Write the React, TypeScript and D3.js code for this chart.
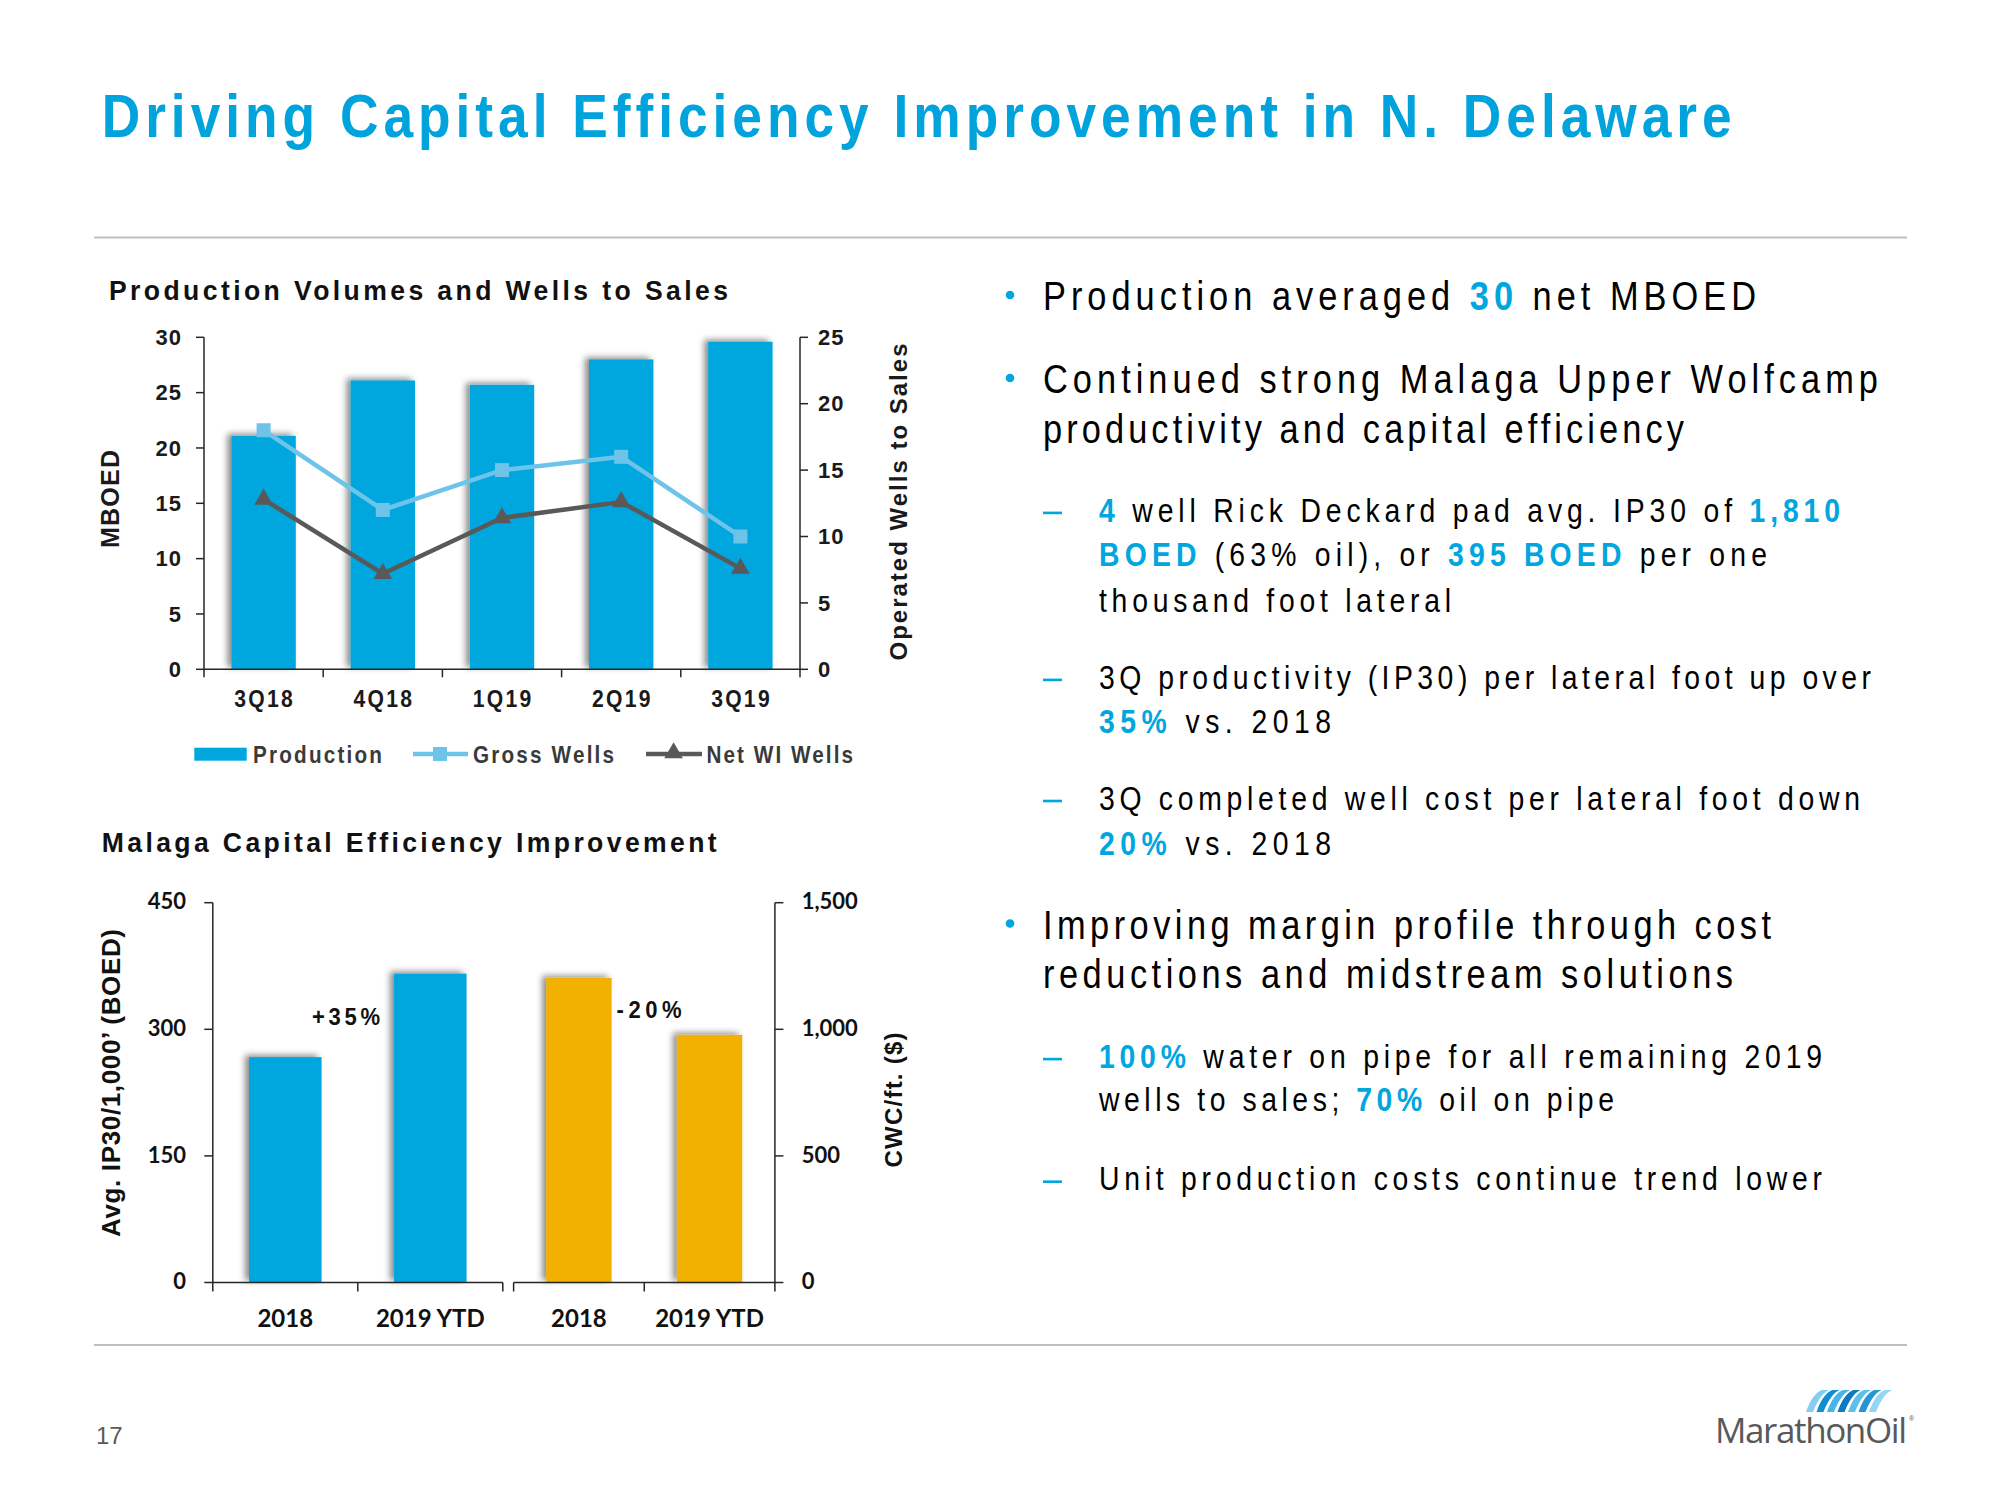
import React from 'react';
import * as d3 from 'd3';

// ---------- Data ----------
const quarters = ['3Q18', '4Q18', '1Q19', '2Q19', '3Q19'];
const production = [21.1, 26.1, 25.7, 28.0, 29.6];
const grossWells = [18, 12, 15, 16, 10];
const netWIWells = [12.8, 7.2, 11.4, 12.6, 7.6];
const prodTicks = [0, 5, 10, 15, 20, 25, 30];
const wellTicks = [0, 5, 10, 15, 20, 25];

const ipYears = ['2018', '2019 YTD'];
const ip30Values = [267, 366];
const cwcYears = ['2018', '2019 YTD'];
const cwcValues = [1203, 978];
const ipTicks = [0, 150, 300, 450];
const cwcTicks = [0, 500, 1000, 1500];

const ipChange = '+35%';
const cwcChange = '-20%';

// ---------- Colors ----------
const BLUE = '#00A6DE';
const LIGHT = '#6EC3E8';
const DARK = '#595959';
const GOLD = '#F2B000';
const TITLE = '#00A3DB';
const AXIS = '#262626';

const ARIAL = '"Liberation Sans", Arial, sans-serif';
const CALIBRI = 'Lato, "Open Sans", sans-serif';

type STProps = {
  x: number; y: number; w: number; size: number; weight?: any; fill?: string;
  sx?: number; rotate?: number; anchor?: 'start' | 'middle' | 'end'; family?: string;
  children: any;
};
function ST({ x, y, w, size, weight = 'normal', fill = '#000', sx = 1, rotate = 0, anchor = 'start', family = ARIAL, children }: STProps) {
  const L = w / sx;
  const lx = anchor === 'start' ? 0 : anchor === 'middle' ? -L / 2 : -L;
  return (
    <text
      transform={`translate(${x},${y}) rotate(${rotate}) scale(${sx},1)`}
      x={lx}
      y={0}
      textLength={L}
      lengthAdjust="spacing"
      fontFamily={family}
      fontSize={size}
      fontWeight={weight}
      fill={fill}
      style={{ whiteSpace: 'pre' }}
    >
      {children}
    </text>
  );
}

type Seg = [string, boolean];
type Line = { x: number; y: number; w: number; size: number; segs: Seg[]; marker?: 'bullet' | 'dash' };

const textLines: Line[] = [
  { x: 1043, y: 310, w: 713, size: 40, marker: 'bullet', segs: [['Production averaged ', false], ['30', true], [' net MBOED', false]] },
  { x: 1043, y: 393, w: 835, size: 40, marker: 'bullet', segs: [['Continued strong Malaga Upper Wolfcamp', false]] },
  { x: 1043, y: 443, w: 641, size: 40, segs: [['productivity and capital efficiency', false]] },
  { x: 1099, y: 521.6, w: 741, size: 33, marker: 'dash', segs: [['4', true], [' well Rick Deckard pad avg. IP30 of ', false], ['1,810', true]] },
  { x: 1099, y: 566, w: 668, size: 33, segs: [['BOED', true], [' (63% oil), or ', false], ['395 BOED', true], [' per one', false]] },
  { x: 1099, y: 611.5, w: 352, size: 33, segs: [['thousand foot lateral', false]] },
  { x: 1099, y: 688.6, w: 772, size: 33, marker: 'dash', segs: [['3Q productivity (IP30) per lateral foot up over', false]] },
  { x: 1099, y: 733, w: 232, size: 33, segs: [['35%', true], [' vs. 2018', false]] },
  { x: 1099, y: 809.7, w: 761, size: 33, marker: 'dash', segs: [['3Q completed well cost per lateral foot down', false]] },
  { x: 1099, y: 854.5, w: 232, size: 33, segs: [['20%', true], [' vs. 2018', false]] },
  { x: 1043, y: 938.5, w: 728, size: 40, marker: 'bullet', segs: [['Improving margin profile through cost', false]] },
  { x: 1043, y: 987.6, w: 690, size: 40, segs: [['reductions and midstream solutions', false]] },
  { x: 1099, y: 1067.8, w: 723, size: 33, marker: 'dash', segs: [['100%', true], [' water on pipe for all remaining 2019', false]] },
  { x: 1099, y: 1111.3, w: 515, size: 33, segs: [['wells to sales; ', false], ['70%', true], [' oil on pipe', false]] },
  { x: 1099, y: 1190.4, w: 723, size: 33, marker: 'dash', segs: [['Unit production costs continue trend lower', false]] },
];

function TopChart() {
  const x = d3.scaleBand<string>().domain(quarters).range([204, 800]).paddingInner(0.46).paddingOuter(0.23);
  const yL = d3.scaleLinear().domain([0, 30]).range([669.3, 337.3]);
  const yR = d3.scaleLinear().domain([0, 25]).range([669.3, 337.3]);
  const cx = (i: number) => (x(quarters[i]) as number) + x.bandwidth() / 2;
  const line = d3.line<number>().x((_, i) => cx(i)).y((d) => yR(d));
  const step = x.step();
  const [x0, x1] = x.range();
  const boundaries = d3.range(quarters.length + 1).map((i) => x0 + i * step);
  const tri = d3.symbol().type(d3.symbolTriangle).size(150)();
  const y0 = yL(0);

  return (
    <g>
      <ST x={109} y={300} w={619} size={28} weight="bold" fill="#111" sx={0.95}>Production Volumes and Wells to Sales</ST>
      {production.map((v, i) => (
        <rect key={i} x={x(quarters[i])} y={yL(v)} width={x.bandwidth()} height={y0 - yL(v)} fill={BLUE} filter="url(#barShadow)" />
      ))}
      {/* axes */}
      <line x1={x0} x2={x0} y1={yL(30)} y2={y0} stroke={AXIS} strokeWidth={1.5} />
      <line x1={x1} x2={x1} y1={yR(25)} y2={y0} stroke={AXIS} strokeWidth={1.5} />
      <line x1={x0} x2={x1} y1={y0} y2={y0} stroke={AXIS} strokeWidth={1.5} />
      {prodTicks.map((t) => (
        <g key={'l' + t}>
          <line x1={x0 - 8} x2={x0} y1={yL(t)} y2={yL(t)} stroke={AXIS} strokeWidth={1.5} />
          <text x={182} y={yL(t)} dy="0.35em" textAnchor="end" fontFamily={ARIAL} fontWeight="bold" fontSize={22} fill="#1a1a1a" letterSpacing={1}>{t}</text>
        </g>
      ))}
      {wellTicks.map((t) => (
        <g key={'r' + t}>
          <line x1={x1} x2={x1 + 8} y1={yR(t)} y2={yR(t)} stroke={AXIS} strokeWidth={1.5} />
          <text x={818} y={yR(t)} dy="0.35em" textAnchor="start" fontFamily={ARIAL} fontWeight="bold" fontSize={22} fill="#1a1a1a" letterSpacing={1}>{t}</text>
        </g>
      ))}
      {boundaries.map((b, i) => (
        <line key={'b' + i} x1={b} x2={b} y1={y0} y2={y0 + 8} stroke={AXIS} strokeWidth={1.5} />
      ))}
      {quarters.map((q, i) => (
        <ST key={q} x={cx(i)} y={706.7} w={58.5} size={23} weight="bold" fill="#1a1a1a" sx={0.92} anchor="middle">{q}</ST>
      ))}
      {/* lines */}
      <path d={line(grossWells) || ''} fill="none" stroke={LIGHT} strokeWidth={4.5} />
      {grossWells.map((v, i) => (
        <rect key={'g' + i} x={cx(i) - 7} y={yR(v) - 7} width={14} height={14} fill={LIGHT} />
      ))}
      <path d={line(netWIWells) || ''} fill="none" stroke={DARK} strokeWidth={4.5} />
      {netWIWells.map((v, i) => (
        <path key={'n' + i} d={tri || ''} transform={`translate(${cx(i)},${yR(v)})`} fill={DARK} />
      ))}
      {/* axis titles */}
      <ST x={119} y={499} w={98} size={25} weight="bold" fill="#1a1a1a" rotate={-90} anchor="middle">MBOED</ST>
      <ST x={907} y={502} w={317} size={24} weight="bold" fill="#1a1a1a" rotate={-90} anchor="middle">Operated Wells to Sales</ST>
      {/* legend */}
      <rect x={194.3} y={747.7} width={52.4} height={13} fill={BLUE} />
      <ST x={253} y={762.7} w={129} size={23} weight="bold" fill="#3a3a3a" sx={0.9}>Production</ST>
      <line x1={413} x2={468} y1={754} y2={754} stroke={LIGHT} strokeWidth={4.5} />
      <rect x={433} y={747} width={14} height={14} fill={LIGHT} />
      <ST x={473} y={762.7} w={141} size={23} weight="bold" fill="#3a3a3a" sx={0.9}>Gross Wells</ST>
      <line x1={646} x2={702} y1={754} y2={754} stroke={DARK} strokeWidth={4.5} />
      <path d={tri || ''} transform="translate(673.6,753)" fill={DARK} />
      <ST x={706.5} y={762.7} w={146.5} size={23} weight="bold" fill="#3a3a3a" sx={0.9}>Net WI Wells</ST>
    </g>
  );
}

function BottomChart() {
  const xL = d3.scaleBand<string>().domain(ipYears).range([212.8, 502.8]).paddingInner(0.5).paddingOuter(0.25);
  const xR = d3.scaleBand<string>().domain(cwcYears).range([513.6, 774.9]).paddingInner(0.5).paddingOuter(0.25);
  const yIP = d3.scaleLinear().domain([0, 450]).range([1282.5, 902.7]);
  const yC = d3.scaleLinear().domain([0, 1500]).range([1282.5, 902.7]);
  const y0 = yIP(0);
  const [l0, l1] = xL.range();
  const [r0, r1] = xR.range();
  const lb = d3.range(ipYears.length + 1).map((i) => l0 + i * xL.step());
  const rb = d3.range(cwcYears.length + 1).map((i) => r0 + i * xR.step());
  const fmt = d3.format(',');

  return (
    <g>
      <ST x={101.7} y={851.7} w={615} size={28} weight="bold" fill="#111" sx={0.95}>Malaga Capital Efficiency Improvement</ST>
      {ip30Values.map((v, i) => (
        <rect key={'ip' + i} x={xL(ipYears[i])} y={yIP(v)} width={xL.bandwidth()} height={y0 - yIP(v)} fill={BLUE} filter="url(#barShadow)" />
      ))}
      {cwcValues.map((v, i) => (
        <rect key={'c' + i} x={xR(cwcYears[i])} y={yC(v)} width={xR.bandwidth()} height={y0 - yC(v)} fill={GOLD} filter="url(#barShadow)" />
      ))}
      <line x1={l0} x2={l0} y1={yIP(450)} y2={y0} stroke={AXIS} strokeWidth={1.5} />
      <line x1={r1} x2={r1} y1={yC(1500)} y2={y0} stroke={AXIS} strokeWidth={1.5} />
      <line x1={l0} x2={l1} y1={y0} y2={y0} stroke={AXIS} strokeWidth={1.5} />
      <line x1={r0} x2={r1} y1={y0} y2={y0} stroke={AXIS} strokeWidth={1.5} />
      {ipTicks.map((t) => (
        <g key={'il' + t}>
          <line x1={l0 - 8.5} x2={l0} y1={yIP(t)} y2={yIP(t)} stroke={AXIS} strokeWidth={1.5} />
          <text x={186} y={yIP(t)} dy="0.3em" textAnchor="end" fontFamily={CALIBRI} fontWeight="bold" fontSize={22} fill="#111">{t}</text>
        </g>
      ))}
      {cwcTicks.map((t) => (
        <g key={'cr' + t}>
          <line x1={r1} x2={r1 + 8.5} y1={yC(t)} y2={yC(t)} stroke={AXIS} strokeWidth={1.5} />
          <text x={801.7} y={yC(t)} dy="0.3em" textAnchor="start" fontFamily={CALIBRI} fontWeight="bold" fontSize={22} fill="#111">{fmt(t)}</text>
        </g>
      ))}
      {[...lb, ...rb].map((b, i) => (
        <line key={'xb' + i} x1={b} x2={b} y1={y0} y2={y0 + 9} stroke={AXIS} strokeWidth={1.5} />
      ))}
      {ipYears.map((c) => (
        <text key={'lc' + c} x={(xL(c) as number) + xL.bandwidth() / 2} y={1326.7} textAnchor="middle" fontFamily={CALIBRI} fontWeight="bold" fontSize={24} fill="#111">{c}</text>
      ))}
      {cwcYears.map((c) => (
        <text key={'rc' + c} x={(xR(c) as number) + xR.bandwidth() / 2} y={1326.7} textAnchor="middle" fontFamily={CALIBRI} fontWeight="bold" fontSize={24} fill="#111">{c}</text>
      ))}
      <ST x={(xL(ipYears[1]) as number) - 14} y={yIP(ip30Values[0]) - 32} w={68} size={24} weight="bold" fill="#111" anchor="end" sx={0.92}>{ipChange}</ST>
      <ST x={(xR(cwcYears[0]) as number) + xR.bandwidth() + 5} y={yC(cwcValues[1]) - 16.6} w={65} size={24} weight="bold" fill="#111" sx={0.92}>{cwcChange}</ST>
      <ST x={120} y={1083} w={308} size={26} weight="bold" fill="#111" rotate={-90} anchor="middle">Avg. IP30/1,000’ (BOED)</ST>
      <ST x={902} y={1100} w={135} size={24} weight="bold" fill="#111" rotate={-90} anchor="middle">CWC/ft. ($)</ST>
    </g>
  );
}

const TSX = 0.86;

function TextBlock() {
  return (
    <g>
      {textLines.map((ln, i) => (
        <g key={i}>
          {ln.marker === 'bullet' && (
            <circle cx={1010} cy={ln.y - 15} r={4.3} fill={BLUE} />
          )}
          {ln.marker === 'dash' && (
            <rect x={1043} y={ln.y - 10} width={19} height={2.6} fill={BLUE} />
          )}
          <text
            transform={`translate(${ln.x},${ln.y}) scale(${TSX},1)`}
            x={0}
            y={0}
            textLength={ln.w / TSX}
            lengthAdjust="spacing"
            fontFamily={ARIAL}
            fontSize={ln.size}
            fill="#000"
            style={{ whiteSpace: 'pre' }}
          >
            {ln.segs.map(([t, hi], k) => (
              <tspan key={k} fill={hi ? BLUE : '#000'} fontWeight={hi ? 'bold' : 'normal'}>{t}</tspan>
            ))}
          </text>
        </g>
      ))}
    </g>
  );
}

function Logo() {
  const stripes = [0, 1, 2, 3, 4, 5, 6];
  const cols = ['#7FCBEE', '#0089CF', '#3FB0E6', '#0072BC', '#56BCEA', '#1B8FD2', '#8ED3F2'];
  return (
    <g>
      {stripes.map((s) => {
        const xs = 1806 + s * 10.5;
        return (
          <path
            key={s}
            d={`M${xs},1412 C${xs + 4},1400 ${xs + 10},1392 ${xs + 16},1390 L${xs + 23},1390 C${xs + 16},1393 ${xs + 11},1402 ${xs + 7},1412 Z`}
            fill={cols[s]}
            opacity={0.95}
          />
        );
      })}
      <ST x={1715} y={1443} w={192} size={35} weight={500} fill="#58595B" family={'"Open Sans", Lato, sans-serif'}>MarathonOil</ST>
      <text x={1909} y={1421} fontSize={7} fill="#58595B" fontFamily={ARIAL}>®</text>
    </g>
  );
}

export default function App() {
  return (
    <svg width={2000} height={1500} viewBox="0 0 2000 1500" style={{ position: 'absolute', left: 0, top: 0, background: '#fff', display: 'block' }}>
      <defs>
        <filter id="barShadow" x="-30%" y="-10%" width="150%" height="120%">
          <feDropShadow dx={-4} dy={-2} stdDeviation={3} floodColor="#000" floodOpacity={0.45} />
        </filter>
      </defs>
      <rect x={0} y={0} width={2000} height={1500} fill="#fff" />
      <ST x={101.7} y={136.7} w={1630} size={62} weight="bold" fill={TITLE} sx={0.86}>Driving Capital Efficiency Improvement in N. Delaware</ST>
      <line x1={94} x2={1907} y1={237.5} y2={237.5} stroke="#BFBFBF" strokeWidth={2} />
      <line x1={94} x2={1907} y1={1345} y2={1345} stroke="#BFBFBF" strokeWidth={2} />
      <TopChart />
      <BottomChart />
      <TextBlock />
      <text x={96} y={1444} fontFamily={ARIAL} fontSize={24} fill="#595959">17</text>
      <Logo />
    </svg>
  );
}
